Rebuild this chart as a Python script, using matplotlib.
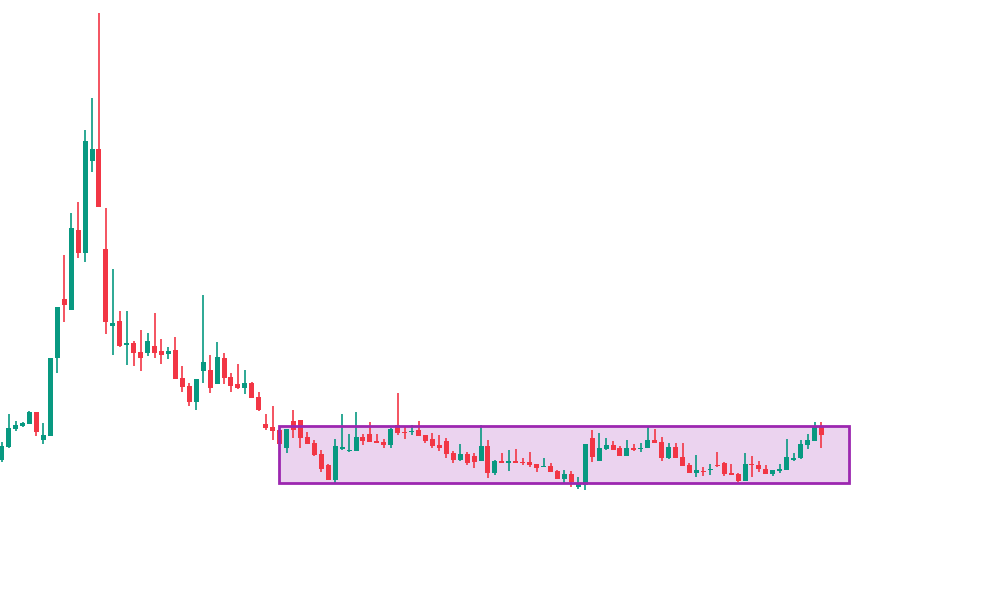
import matplotlib
matplotlib.use('Agg')
import matplotlib.pyplot as plt
from matplotlib.patches import Rectangle

# OHLC values (arbitrary price units)
opens = [150,163,181,184,186,198,170,174,252,311,300,380,357,449,461,361,284,289,265,267,
         258,257,264,259,256,260,232,224,208,239,240,226,252,233,226,222,227,213,186,183,
         180,162,189,190,173,167,156,145,130,161,159,159,173,176,169,168,165,185,178,178,
         180,175,171,165,169,157,150,156,154,149,164,137,149,147,149,148,148,146,143,144,
         139,131,136,123,125,172,149,161,165,162,154,162,161,162,170,168,152,163,153,145,
         137,139,140,145,147,137,136,129,146,145,141,136,139,140,150,152,165,169,183]
highs = [168,196,189,188,199,198,187,252,303,355,397,408,480,512,597,402,341,299,299,269,
         280,277,297,271,263,273,244,227,231,315,255,268,257,237,246,240,228,218,196,204,
         180,181,200,190,178,170,160,146,171,196,176,198,176,188,176,171,182,217,183,185,
         189,175,177,175,172,159,166,158,157,185,170,150,157,160,161,152,158,146,152,147,
         140,140,139,133,166,180,177,172,169,164,170,166,167,184,181,173,167,167,167,147,
         155,143,146,158,148,146,137,157,154,149,145,140,146,171,157,170,176,188,188]
lows = [148,162,179,183,186,174,166,174,237,288,300,352,348,438,403,276,255,263,245,244,
        239,254,252,246,251,231,218,204,200,227,217,226,226,218,221,216,212,199,180,170,
        166,157,172,162,166,154,138,130,127,160,158,159,165,168,167,162,162,175,171,175,
        174,167,162,159,152,147,149,145,142,149,132,135,147,139,147,145,143,138,143,138,
        131,127,123,121,120,148,149,160,160,154,154,159,158,162,167,149,151,152,144,137,
        133,134,135,143,134,135,128,129,133,138,136,134,137,140,149,151,161,169,162]
closes = [164,182,185,187,198,178,175,252,303,305,382,357,469,461,403,288,287,264,267,257,
          252,269,257,255,259,231,223,208,231,248,222,253,232,224,222,227,212,200,182,179,
          166,181,180,172,166,155,141,130,164,163,160,173,169,168,167,165,181,177,177,179,
          174,169,164,162,156,150,156,147,148,164,137,149,147,149,147,147,145,142,144,138,
          131,136,128,126,166,153,162,165,160,154,162,160,162,170,167,152,163,152,144,137,
          140,138,141,144,136,135,129,146,145,141,136,140,141,153,152,166,170,183,175]

zone_start, zone_end = 39.9, 122.0
zone_low, zone_high = 127, 184

green = '#089981'
red = '#f23645'

fig = plt.figure(figsize=(10, 6.1), dpi=100)
ax = fig.add_axes([0, 0, 1, 1])

ax.add_patch(Rectangle((zone_start, zone_low), zone_end - zone_start, zone_high - zone_low,
                       facecolor='#9c27b0', alpha=0.2, edgecolor='none', zorder=1))
ax.add_patch(Rectangle((zone_start, zone_low), zone_end - zone_start, zone_high - zone_low,
                       facecolor='none', edgecolor='#9c27b0', lw=2, zorder=3))

w = 0.72
for i in range(len(opens)):
    o, h, l, c = opens[i], highs[i], lows[i], closes[i]
    col = green if c >= o else red
    ax.vlines(i, l, h, color=col, lw=1.2, zorder=2)
    ax.add_patch(Rectangle((i - w / 2, min(o, c)), w, max(abs(c - o), 1.2),
                           facecolor=col, edgecolor='none', zorder=2))

ax.set_xlim(-0.245, 143.7)
ax.set_ylim(0, 610)
ax.axis('off')

plt.savefig('out.png', dpi=100)
